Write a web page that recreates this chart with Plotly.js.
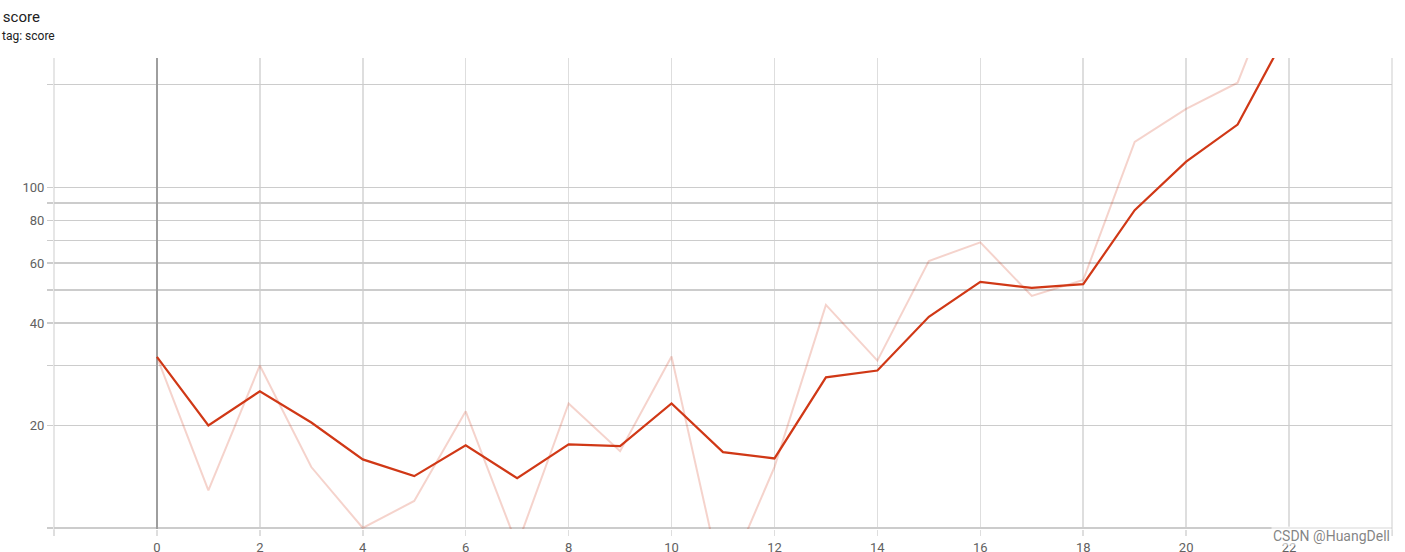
<!DOCTYPE html>
<html>
<head>
<meta charset="utf-8">
<script src="https://cdn.plot.ly/plotly-3.0.1.min.js"></script>
<style>html,body{margin:0;padding:0;background:#fff;}#chart{width:1405px;height:552px;}</style>
</head>
<body>
<div id="chart"></div>
<script>
// Steps
const steps = [0,1,2,3,4,5,6,7,8,9,10,11,12,13,14,15,16,17,18,19,20,21,22];
// Raw score values (light line)
const rawScore = [31.8,12.9,30.0,15.1,10.0,12.0,22.0,8.9,23.2,16.8,31.9,6.7,15.1,45.2,31.0,60.8,69.0,48.0,53.5,136,170,203,490];
// Smoothed score values (dark line)
const smoothScore = [31.8,20.0,25.2,20.4,15.9,14.2,17.5,14.0,17.6,17.4,23.2,16.7,16.0,27.7,29.0,41.7,52.8,50.7,52.0,85.7,119,153,292];
// Axis ticks
const yTickVals = [10,20,30,40,50,60,70,80,90,100,200];
const yTickText = ['','20','','40','','60','','80','','100',''];
const xTickVals = [-2,0,2,4,6,8,10,12,14,16,18,20,22,24];
const xTickText = ['','0','2','4','6','8','10','12','14','16','18','20','22',''];

const lineColor = 'rgb(208,56,22)';

const traces = [
  {x: steps, y: rawScore, type: 'scatter', mode: 'lines',
   line: {color: lineColor, width: 2}, opacity: 0.22, hoverinfo: 'skip', showlegend: false},
  {x: steps, y: smoothScore, type: 'scatter', mode: 'lines',
   line: {color: lineColor, width: 2.2}, showlegend: false}
];

const edgeLine = (x) => ({type: 'line', xref: 'paper', yref: 'paper', x0: x, x1: x,
  y0: -6/471, y1: 1, line: {color: '#dedede', width: 1.5}, layer: 'below'});

const layout = {
  width: 1405, height: 552,
  margin: {l: 54, r: 13, t: 58, b: 23},
  paper_bgcolor: '#fff', plot_bgcolor: '#fff',
  font: {family: 'Roboto, sans-serif', color: '#616161', size: 13},
  title: {text: 'score', xref: 'container', yref: 'container', x: 0.002, xanchor: 'left',
          y: 1 - 17/552, yanchor: 'middle', font: {size: 15, color: '#212121', family: 'Roboto, sans-serif'}},
  xaxis: {
    range: [-2, 24], tickmode: 'array', tickvals: xTickVals, ticktext: xTickText,
    showgrid: true, gridcolor: '#dedede', gridwidth: 1.5,
    zeroline: true, zerolinecolor: '#9e9e9e', zerolinewidth: 2,
    showline: false, ticks: 'outside', ticklen: 6, tickcolor: '#dedede', tickwidth: 1.5,
    tickfont: {size: 13, color: '#616161'}
  },
  yaxis: {
    type: 'log', range: [0.997, 2.38], tickmode: 'array', tickvals: yTickVals, ticktext: yTickText,
    showgrid: true, gridcolor: '#cccccc', gridwidth: 1.2,
    zeroline: false, showline: false, ticks: 'outside', ticklen: 6, tickcolor: '#cccccc', tickwidth: 1.2,
    tickfont: {size: 13, color: '#616161'}
  },
  shapes: [edgeLine(0), edgeLine(1)],
  annotations: [
    {text: 'tag: score', xref: 'paper', yref: 'paper', x: -54/1338, xanchor: 'left',
     y: 1 + (58 - 36)/471, yanchor: 'middle', showarrow: false,
     font: {size: 12, color: '#212121', family: 'Roboto, sans-serif'}},
    {text: 'CSDN @HuangDell', xref: 'paper', yref: 'paper', x: 1, xanchor: 'right',
     y: -(536 - 529)/471, yanchor: 'middle', showarrow: false,
     font: {size: 14, color: 'rgba(110,110,110,0.85)', family: 'Roboto, sans-serif'},
     bgcolor: 'rgba(255,255,255,0.6)'}
  ]
};

Plotly.newPlot('chart', traces, layout, {displayModeBar: false, staticPlot: true});
</script>
</body>
</html>
